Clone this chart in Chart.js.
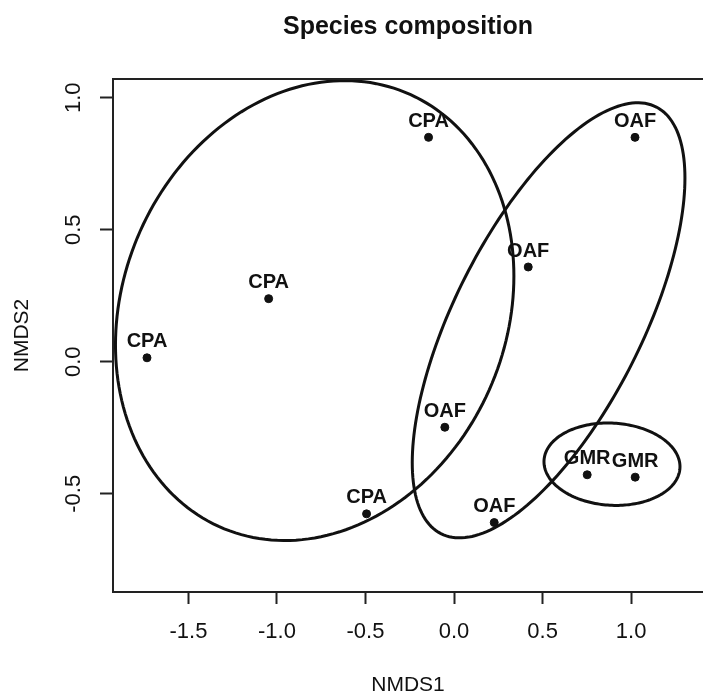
<!DOCTYPE html>
<html>
<head>
<meta charset="utf-8">
<script src="https://cdn.jsdelivr.net/npm/chart.js@4.4.1/dist/chart.umd.min.js"></script>
<style>
  html, body { margin: 0; padding: 0; background: #fff; }
  canvas { display: block; }
</style>
</head>
<body>
<canvas id="nmds" width="703" height="696"></canvas>
<script>
// site scores
const siteLabels = ["CPA", "CPA", "CPA", "CPA", "OAF", "OAF", "OAF", "OAF", "GMR", "GMR"];
const nmds1 = [-1.734, -1.047, -0.144, -0.494, 1.022, 0.419, -0.052, 0.227, 0.752, 1.023];
const nmds2 = [0.015, 0.239, 0.850, -0.576, 0.850, 0.359, -0.248, -0.609, -0.428, -0.437];

// group ellipses: centre, half extents on each axis, correlation
const ellipseGroups = ["CPA", "OAF", "GMR"];
const ellipseCx = [-0.787, 0.534, 0.892];
const ellipseCy = [0.194, 0.157, -0.388];
const ellipseSx = [1.125, 0.770, 0.384];
const ellipseSy = [0.871, 0.824, 0.156];
const ellipseR = [0.15, 0.654, -0.06];

const xTicks = [-1.5, -1.0, -0.5, 0.0, 0.5, 1.0];
const yTicks = [-0.5, 0.0, 0.5, 1.0];
const xRange = [-1.926, 1.406];
const yRange = [-0.872, 1.071];

const FONT = "'Liberation Sans', Arial, Helvetica, sans-serif";
const INK = "#111";

const plotExtras = {
  id: "plotExtras",
  afterDatasetsDraw(chart) {
    const { ctx, chartArea: a, scales } = chart;
    const xs = scales.x, ys = scales.y;

    // point labels above each site
    const pts = chart.getDatasetMeta(0).data;
    ctx.save();
    ctx.fillStyle = INK;
    ctx.font = "bold 20px " + FONT;
    ctx.textAlign = "center";
    ctx.textBaseline = "middle";
    pts.forEach((p, i) => ctx.fillText(siteLabels[i], p.x, p.y - 16));
    ctx.restore();

    // ellipses
    ctx.save();
    ctx.beginPath();
    ctx.rect(a.left, a.top, a.right - a.left, a.bottom - a.top);
    ctx.clip();
    ctx.strokeStyle = INK;
    ctx.lineWidth = 3;
    ellipseGroups.forEach((g, k) => {
      const q = Math.sqrt(1 - ellipseR[k] * ellipseR[k]);
      ctx.beginPath();
      for (let s = 0; s <= 200; s++) {
        const t = (s / 200) * Math.PI * 2;
        const vx = ellipseCx[k] + ellipseSx[k] * Math.cos(t);
        const vy = ellipseCy[k] + ellipseSy[k] * (ellipseR[k] * Math.cos(t) + q * Math.sin(t));
        const px = xs.getPixelForValue(vx), py = ys.getPixelForValue(vy);
        if (s === 0) ctx.moveTo(px, py); else ctx.lineTo(px, py);
      }
      ctx.closePath();
      ctx.stroke();
    });
    ctx.restore();
  },
  afterDraw(chart) {
    const { ctx, chartArea: a, scales } = chart;
    // top of the box (left and bottom come from the axis borders)
    ctx.save();
    ctx.strokeStyle = "#222";
    ctx.lineWidth = 2;
    ctx.beginPath();
    ctx.moveTo(a.left, a.top);
    ctx.lineTo(a.right, a.top);
    ctx.stroke();

    // rotated y tick labels
    ctx.fillStyle = INK;
    ctx.font = "22px " + FONT;
    ctx.textAlign = "center";
    ctx.textBaseline = "middle";
    yTicks.forEach((v) => {
      const y = scales.y.getPixelForValue(v);
      ctx.save();
      ctx.translate(74, y);
      ctx.rotate(-Math.PI / 2);
      ctx.fillText(v.toFixed(1), 0, 0);
      ctx.restore();
    });

    // main title, centred over the plot region
    ctx.font = "bold 25px " + FONT;
    ctx.fillText("Species composition", (a.left + a.right) / 2, 27);
    ctx.restore();
  },
};

new Chart(document.getElementById("nmds"), {
  type: "scatter",
  data: {
    datasets: [
      {
        label: "sites",
        data: nmds1.map((x, i) => ({ x: x, y: nmds2[i] })),
        pointRadius: 4,
        pointHoverRadius: 4,
        pointBackgroundColor: INK,
        pointBorderColor: INK,
        pointBorderWidth: 1,
      },
    ],
  },
  options: {
    responsive: false,
    animation: false,
    layout: { autoPadding: false, padding: { top: 79, left: 0, right: 0, bottom: 0 } },
    plugins: {
      legend: { display: false },
      tooltip: { enabled: false },
      title: { display: false },
    },
    scales: {
      x: {
        type: "linear",
        min: xRange[0],
        max: xRange[1],
        afterBuildTicks: (s) => { s.ticks = xTicks.map((v) => ({ value: v })); },
        afterFit: (s) => {
          s.height = 104;
          s.paddingLeft = 0;
          s.paddingRight = 0;
        },
        grid: { drawOnChartArea: false, drawTicks: true, tickLength: 12, tickWidth: 2, tickColor: "#222" },
        border: { display: true, color: "#222", width: 2 },
        ticks: {
          autoSkip: false,
          maxRotation: 0,
          padding: 15,
          color: INK,
          font: { family: FONT, size: 22 },
          callback: (v) => Number(v).toFixed(1),
        },
        title: {
          display: true,
          text: "NMDS1",
          color: INK,
          font: { family: FONT, size: 21, lineHeight: 1 },
          padding: { top: 0, bottom: 0 },
        },
      },
      y: {
        type: "linear",
        min: yRange[0],
        max: yRange[1],
        afterBuildTicks: (s) => { s.ticks = yTicks.map((v) => ({ value: v })); },
        afterFit: (s) => {
          s.width = 113;
          s.paddingTop = 0;
          s.paddingBottom = 0;
        },
        grid: { drawOnChartArea: false, drawTicks: true, tickLength: 13, tickWidth: 2, tickColor: "#222" },
        border: { display: true, color: "#222", width: 2 },
        ticks: { display: false },
        title: {
          display: true,
          text: "NMDS2",
          color: INK,
          font: { family: FONT, size: 21, lineHeight: 1 },
          padding: { top: 12, bottom: 0 },
        },
      },
    },
  },
  plugins: [plotExtras],
});
</script>
</body>
</html>
